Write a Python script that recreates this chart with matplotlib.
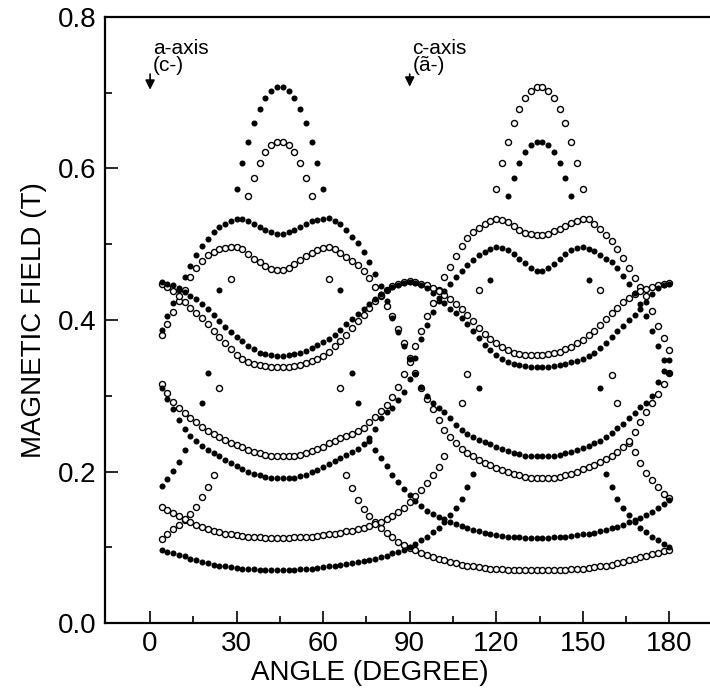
"""Angular dependence of resonance fields (two site sets, filled/open)."""

import numpy as np
import matplotlib

matplotlib.use("Agg")
import matplotlib.pyplot as plt

plt.rcParams["font.family"] = ["Liberation Sans", "DejaVu Sans"]

# measured every 2 degrees, 4..180
angle = np.arange(4, 181, 2)

# filled-circle branches (field in T, None = no line seen)
f1 = [0.097, 0.094, 0.092, 0.090, 0.088, 0.085, 0.083, 0.081, 0.079, 0.077,
      0.076, 0.075, 0.074, 0.073, 0.072, 0.071, 0.071, 0.070, 0.070, 0.070,
      0.070, 0.070, 0.070, 0.070, 0.071, 0.071, 0.072, 0.073, 0.074, 0.075,
      0.076, 0.077, 0.078, 0.079, 0.080, 0.082, 0.083, 0.085, 0.087, 0.089,
      0.092, 0.094, 0.097, 0.100, 0.104, 0.109, 0.114, 0.120, 0.126, 0.133,
      0.142, 0.152, 0.164, 0.179, 0.197, 0.310, None, 0.453, None, None,
      0.563, 0.587, 0.607, 0.621, 0.631, 0.635, 0.635, 0.631, 0.621, 0.607,
      0.587, 0.563, None, None, 0.453, None, 0.310, 0.197, 0.179, 0.164,
      0.152, 0.142, 0.133, 0.126, 0.120, 0.114, 0.109, 0.104, 0.100]
f2 = [0.181, 0.190, 0.201, 0.213, 0.228, None, None, 0.291, 0.330, None,
      0.440, None, None, 0.573, 0.607, 0.635, 0.660, 0.678, 0.693, 0.702,
      0.707, 0.707, 0.702, 0.693, 0.678, 0.660, 0.635, 0.607, 0.573, None,
      None, 0.440, None, 0.330, 0.291, None, 0.240, 0.229, 0.218, 0.207,
      0.196, 0.186, 0.177, 0.169, 0.161, 0.154, 0.148, 0.144, 0.140, 0.137,
      0.134, 0.131, 0.128, 0.126, 0.123, 0.121, 0.119, 0.117, 0.116, 0.115,
      0.114, 0.113, 0.113, 0.112, 0.112, 0.112, 0.112, 0.112, 0.113, 0.113,
      0.114, 0.115, 0.116, 0.117, 0.118, 0.119, 0.121, 0.123, 0.125, 0.127,
      0.130, 0.133, 0.136, 0.139, 0.143, 0.147, 0.152, 0.157, 0.163]
f3 = [0.387, 0.405, 0.422, 0.440, 0.456, 0.471, 0.486, 0.498, 0.507, 0.516,
      0.522, 0.527, 0.531, 0.533, 0.533, 0.530, 0.527, 0.523, 0.519, 0.516,
      0.514, 0.514, 0.516, 0.519, 0.523, 0.527, 0.530, 0.532, 0.533, 0.534,
      0.531, 0.526, 0.519, 0.510, 0.501, 0.490, 0.476, 0.461, 0.445, 0.425,
      0.402, 0.384, 0.366, 0.348, 0.328, 0.312, 0.299, 0.290, 0.284, 0.278,
      0.270, 0.262, 0.255, 0.250, 0.246, 0.242, 0.239, 0.236, 0.233, 0.230,
      0.227, 0.225, 0.223, 0.221, 0.220, 0.220, 0.220, 0.220, 0.221, 0.222,
      0.224, 0.226, 0.228, 0.231, 0.234, 0.237, 0.240, 0.245, 0.251, 0.257,
      0.263, 0.270, 0.277, 0.285, 0.291, 0.300, 0.318, 0.332, 0.347]
f4 = [0.310, 0.296, 0.283, 0.268, 0.256, 0.247, 0.240, 0.234, 0.229, 0.224,
      0.220, 0.215, 0.211, 0.207, 0.203, 0.200, 0.197, 0.195, 0.193, 0.192,
      0.191, 0.191, 0.191, 0.192, 0.194, 0.196, 0.199, 0.202, 0.206, 0.210,
      0.214, 0.218, 0.222, 0.226, 0.230, 0.236, 0.244, 0.256, 0.270, 0.278,
      0.284, 0.294, 0.305, 0.322, 0.350, 0.375, 0.393, 0.410, 0.425, 0.438,
      0.448, 0.457, 0.465, 0.472, 0.479, 0.485, 0.490, 0.494, 0.496, 0.495,
      0.492, 0.487, 0.481, 0.475, 0.469, 0.465, 0.465, 0.468, 0.474, 0.480,
      0.487, 0.492, 0.495, 0.496, 0.494, 0.491, 0.486, 0.481, 0.476, 0.468,
      0.458, 0.447, 0.435, 0.421, 0.405, 0.386, 0.366, 0.347, 0.330]
f5 = [0.450, 0.448, 0.446, 0.442, 0.437, 0.432, 0.427, 0.421, 0.414, 0.407,
      0.399, 0.391, 0.384, 0.378, 0.372, 0.366, 0.361, 0.357, 0.355, 0.354,
      0.353, 0.353, 0.354, 0.355, 0.357, 0.359, 0.363, 0.367, 0.371, 0.375,
      0.380, 0.387, 0.394, 0.401, 0.408, 0.414, 0.421, 0.428, 0.434, 0.439,
      0.443, 0.446, 0.449, 0.450, 0.449, 0.446, 0.442, 0.436, 0.429, 0.422,
      0.415, 0.409, 0.402, 0.395, 0.386, 0.376, 0.367, 0.360, 0.354, 0.349,
      0.345, 0.342, 0.340, 0.339, 0.338, 0.338, 0.338, 0.338, 0.339, 0.340,
      0.342, 0.344, 0.346, 0.349, 0.353, 0.357, 0.363, 0.370, 0.377, 0.385,
      0.392, 0.400, 0.407, 0.415, 0.424, 0.434, 0.442, 0.446, 0.448]

# open-circle branches
o1 = [0.111, 0.118, 0.124, 0.130, 0.136, 0.144, 0.153, 0.166, 0.179, 0.195,
      0.310, None, 0.454, None, None, 0.564, 0.587, 0.607, 0.621, 0.631,
      0.635, 0.635, 0.631, 0.621, 0.607, 0.587, 0.564, None, None, 0.454,
      None, 0.310, 0.196, 0.178, 0.163, 0.151, 0.141, 0.133, 0.126, 0.119,
      0.113, 0.107, 0.103, 0.099, 0.096, 0.093, 0.090, 0.087, 0.085, 0.083,
      0.081, 0.079, 0.077, 0.076, 0.075, 0.074, 0.073, 0.072, 0.071, 0.071,
      0.070, 0.070, 0.070, 0.070, 0.070, 0.070, 0.070, 0.070, 0.070, 0.070,
      0.070, 0.071, 0.071, 0.072, 0.073, 0.074, 0.075, 0.076, 0.077, 0.079,
      0.081, 0.083, 0.085, 0.087, 0.089, 0.091, 0.093, 0.095, 0.097]
o2 = [0.153, 0.149, 0.145, 0.141, 0.137, 0.133, 0.130, 0.127, 0.124, 0.122,
      0.120, 0.118, 0.117, 0.116, 0.115, 0.114, 0.113, 0.113, 0.112, 0.112,
      0.112, 0.112, 0.112, 0.113, 0.113, 0.114, 0.114, 0.115, 0.116, 0.117,
      0.118, 0.119, 0.121, 0.122, 0.124, 0.126, 0.128, 0.131, 0.134, 0.137,
      0.141, 0.146, 0.152, 0.160, 0.168, 0.176, 0.185, 0.195, 0.206, 0.220,
      None, None, 0.290, 0.329, None, 0.440, None, None, 0.573, 0.607,
      0.635, 0.660, 0.678, 0.693, 0.702, 0.707, 0.707, 0.702, 0.693, 0.678,
      0.660, 0.635, 0.607, 0.573, None, None, 0.440, None, 0.327, 0.290,
      None, 0.238, 0.226, 0.211, 0.198, 0.189, 0.179, 0.171, 0.165]
o3 = [0.380, 0.395, 0.410, 0.425, 0.440, 0.456, 0.468, 0.478, 0.485, 0.490,
      0.493, 0.495, 0.496, 0.496, 0.493, 0.487, 0.481, 0.476, 0.471, 0.467,
      0.466, 0.466, 0.469, 0.474, 0.479, 0.484, 0.488, 0.492, 0.495, 0.496,
      0.493, 0.488, 0.483, 0.478, 0.472, 0.465, 0.455, 0.443, 0.432, 0.419,
      0.405, 0.388, 0.370, 0.350, 0.330, 0.310, 0.296, 0.283, 0.268, 0.255,
      0.246, 0.238, 0.230, 0.225, 0.220, 0.215, 0.211, 0.208, 0.205, 0.202,
      0.199, 0.197, 0.195, 0.193, 0.192, 0.191, 0.191, 0.191, 0.192, 0.193,
      0.195, 0.197, 0.200, 0.203, 0.206, 0.209, 0.212, 0.216, 0.221, 0.226,
      0.232, 0.240, 0.252, 0.265, 0.278, 0.290, 0.302, 0.315, 0.330]
o4 = [0.315, 0.303, 0.292, 0.284, 0.277, 0.271, 0.265, 0.259, 0.254, 0.249,
      0.245, 0.241, 0.238, 0.235, 0.232, 0.229, 0.226, 0.224, 0.222, 0.221,
      0.220, 0.220, 0.220, 0.221, 0.222, 0.224, 0.227, 0.230, 0.233, 0.237,
      0.240, 0.244, 0.247, 0.250, 0.253, 0.258, 0.265, 0.272, 0.280, 0.288,
      0.298, 0.312, 0.328, 0.345, 0.365, 0.385, 0.405, 0.422, 0.440, 0.456,
      0.470, 0.484, 0.497, 0.508, 0.516, 0.521, 0.526, 0.530, 0.533, 0.532,
      0.529, 0.524, 0.519, 0.515, 0.513, 0.512, 0.512, 0.514, 0.517, 0.520,
      0.524, 0.528, 0.531, 0.533, 0.533, 0.527, 0.520, 0.512, 0.504, 0.494,
      0.482, 0.468, 0.455, 0.444, 0.432, 0.412, 0.392, 0.376, 0.360]
o5 = [0.448, 0.444, 0.438, 0.431, 0.424, 0.416, 0.409, 0.402, 0.394, 0.386,
      0.377, 0.369, 0.361, 0.354, 0.349, 0.345, 0.342, 0.340, 0.339, 0.338,
      0.338, 0.338, 0.338, 0.339, 0.341, 0.343, 0.346, 0.349, 0.353, 0.358,
      0.365, 0.372, 0.380, 0.389, 0.398, 0.407, 0.416, 0.425, 0.433, 0.440,
      0.445, 0.448, 0.450, 0.451, 0.450, 0.448, 0.446, 0.442, 0.438, 0.433,
      0.427, 0.421, 0.414, 0.406, 0.398, 0.390, 0.382, 0.375, 0.369, 0.364,
      0.360, 0.357, 0.355, 0.354, 0.354, 0.354, 0.354, 0.355, 0.356, 0.358,
      0.361, 0.364, 0.369, 0.374, 0.380, 0.386, 0.393, 0.401, 0.409, 0.416,
      0.423, 0.429, 0.434, 0.438, 0.441, 0.444, 0.446, 0.448, 0.449]

filled_branches = [f1, f2, f3, f4, f5]
open_branches = [o1, o2, o3, o4, o5]

fig = plt.figure(figsize=(7.1, 6.97), dpi=100)
ax = fig.add_axes([0.148, 0.106, 0.852, 0.870])

for vals in open_branches:
    ax.scatter(angle, np.array(vals, dtype=float), s=19, facecolors="white",
               edgecolors="black", linewidths=1.0, zorder=2)
for vals in filled_branches:
    ax.scatter(angle, np.array(vals, dtype=float), s=19, color="black",
               linewidths=0, zorder=3)

ax.set_xlim(-15.6, 194.1)
ax.set_ylim(0, 0.8)
ax.set_xticks(range(0, 181, 30))
ax.set_xticks(range(15, 181, 30), minor=True)
ax.set_yticks([0.0, 0.2, 0.4, 0.6, 0.8])
ax.set_yticks([0.1, 0.3, 0.5, 0.7], minor=True)
ax.set_yticklabels(["0.0", "0.2", "0.4", "0.6", "0.8"])
ax.tick_params(which="both", direction="in", labelsize=20, width=1.2)
ax.tick_params(which="major", length=9, pad=6)
ax.tick_params(which="minor", length=5)
ax.spines["right"].set_visible(False)
for side in ("left", "bottom", "top"):
    ax.spines[side].set_linewidth(1.6)

ax.set_xlabel("ANGLE (DEGREE)", fontsize=20)
ax.xaxis.set_label_coords(0.438, -0.06)
ax.set_ylabel("MAGNETIC FIELD (T)", fontsize=20, labelpad=8)

# crystal axis markers
ax.text(1, 0.770, "a-axis\n(c-)", fontsize=15, va="top", ha="left", linespacing=0.85)
ax.annotate("", xy=(0, 0.700), xytext=(0, 0.728),
            arrowprops=dict(arrowstyle="-|>", color="black", lw=1.2, mutation_scale=14))
ax.text(91, 0.770, "c-axis\n(ã-)", fontsize=15, va="top", ha="left", linespacing=0.85)
ax.annotate("", xy=(90, 0.704), xytext=(90, 0.728),
            arrowprops=dict(arrowstyle="-|>", color="black", lw=1.2, mutation_scale=14))

fig.savefig("out.png", dpi=100)
